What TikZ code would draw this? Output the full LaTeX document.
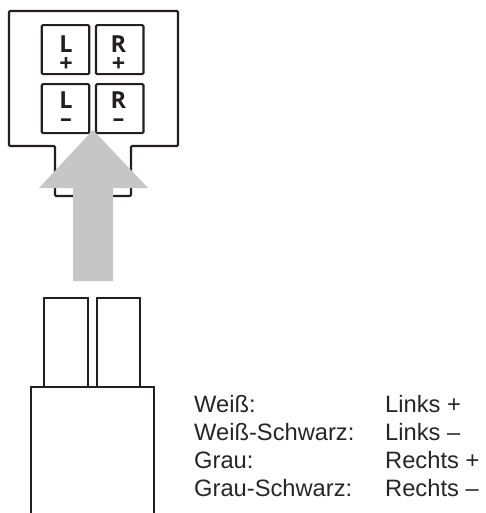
\documentclass[tikz,border=0pt]{standalone}
\usepackage{fontspec}
\setmainfont{Liberation Sans}
\newfontfamily\pinfont{Open Sans}
\definecolor{ink}{HTML}{231F20}
\definecolor{arrowgrey}{HTML}{C6C6C6}
\definecolor{txt}{HTML}{262626}
\tikzset{
  x=1pt,y=-1pt,
  wire/.style={draw=ink,line width=2.1pt},
  pinbox/.style={wire,rounded corners=1.2pt,minimum width=47.5pt,minimum height=49pt,inner sep=0pt},
  pinletter/.style={anchor=base,inner sep=0pt,text=ink,font=\pinfont\bfseries\fontsize{23.5}{23.5}\selectfont},
  pinsign/.style={anchor=base,inner sep=0pt,text=ink,font=\pinfont\bfseries\fontsize{23.5}{23.5}\selectfont},
  plugbox/.style={wire,inner sep=0pt,minimum width=43.5pt,minimum height=89pt},
  legend/.style={anchor=base west,inner sep=0pt,text=txt,font=\fontsize{23.7}{26}\selectfont}
}
\begin{document}
\begin{tikzpicture}
\useasboundingbox (0,0) rectangle (485,513);
\draw[wire,rounded corners=1.2pt] (9,11) -- (178,11) -- (178,146) -- (131,146) -- (131,196) -- (55,196) -- (55,146) -- (9,146) -- cycle;
\node[pinbox] (lp) at (65.5,49.7) {};
\node[pinbox] (rp) at (119.7,49.7) {};
\node[pinbox] (lm) at (65.5,108.7) {};
\node[pinbox] (rm) at (119.7,108.7) {};
\node[pinletter] (lpa) at (66,52.7) {L};
\node[pinletter] (rpa) at (118.5,52.7) {R};
\node[pinletter] (lma) at (66,108.3) {L};
\node[pinletter] (rma) at (118.5,108.3) {R};
\node[pinsign] (lps) at (66,71.5) {+};
\node[pinsign] (rps) at (118.5,71.5) {+};
\node[pinsign] (lms) at (66,126.5) {–};
\node[pinsign] (rms) at (118.5,126.5) {–};
\fill[arrowgrey] (93,130) -- (148,188) -- (113,188) -- (113,281) -- (73,281) -- (73,188) -- (39,188) -- cycle;
\node[plugbox] (pa) at (66,342.5) {};
\node[plugbox] (pb) at (118.5,342.5) {};
\draw[wire] (31,512.7) -- (31,387) -- (154,387) -- (154,512.7);
\node[legend] (a1) at (194,412) {Weiß:};
\node[legend] (a2) at (194,440) {Weiß-Schwarz:};
\node[legend] (a3) at (194,468) {Grau:};
\node[legend] (a4) at (194,496) {Grau-Schwarz:};
\node[legend] (b1) at (385,412) {Links +};
\node[legend] (b2) at (385,440) {Links –};
\node[legend] (b3) at (385,468) {Rechts +};
\node[legend] (b4) at (385,496) {Rechts –};
\end{tikzpicture}
\end{document}
